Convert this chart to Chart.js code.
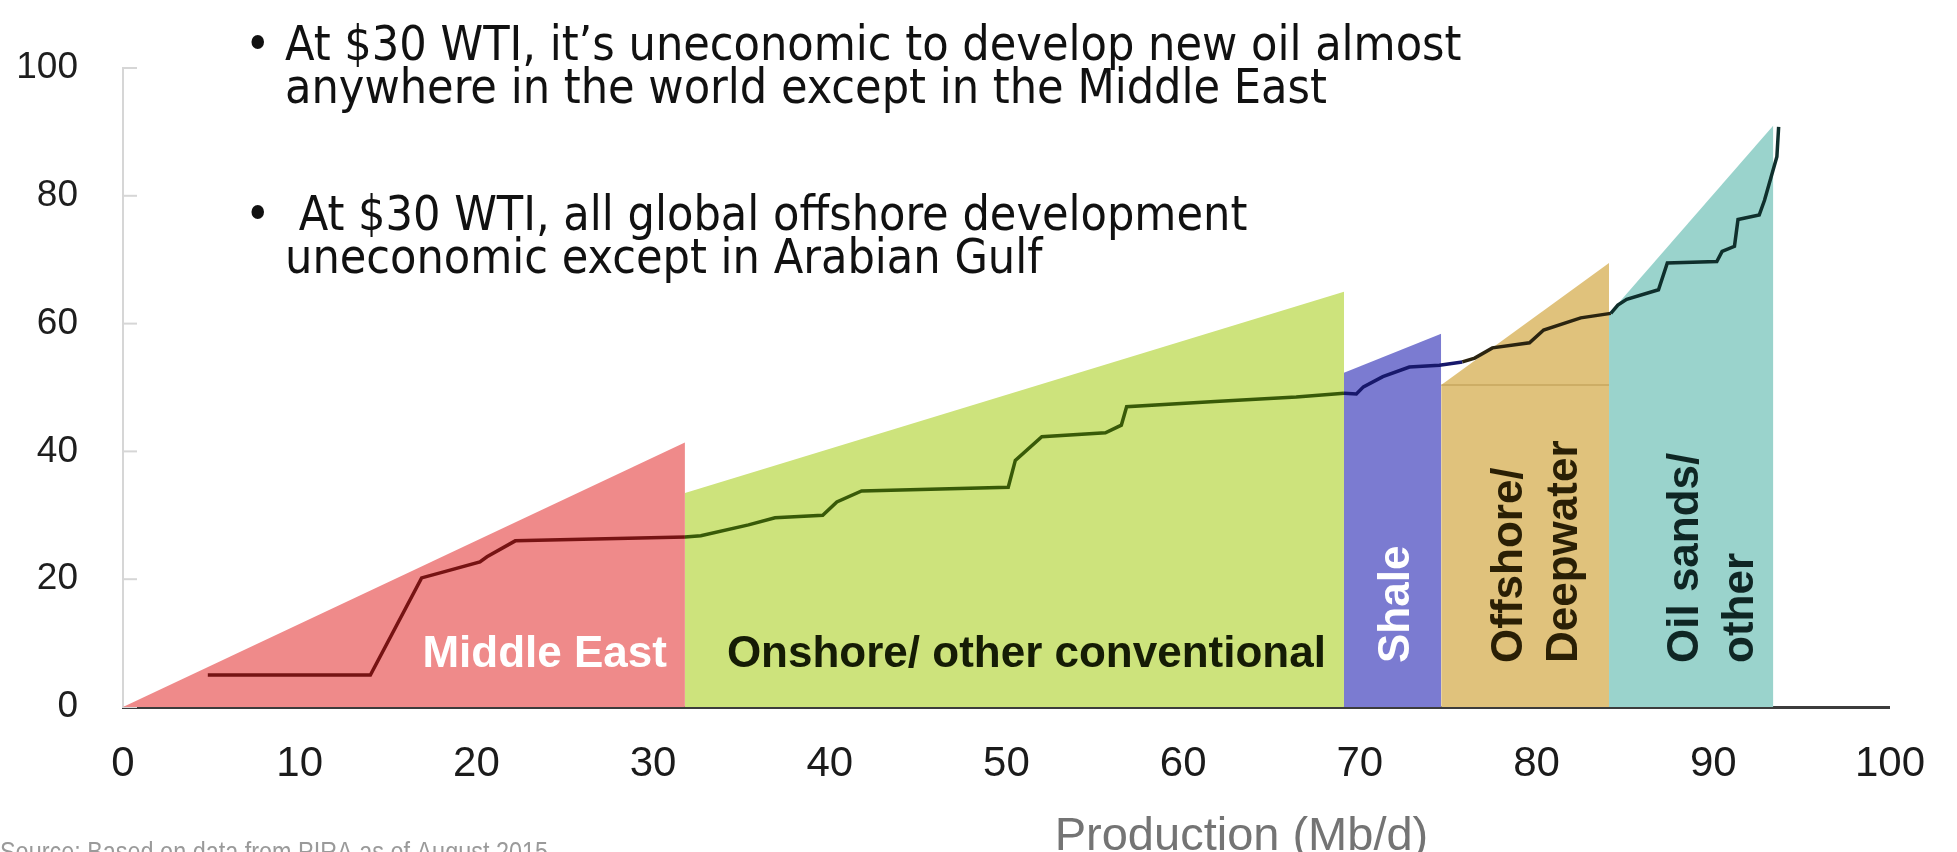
<!DOCTYPE html>
<html>
<head>
<meta charset="utf-8">
<title>Oil supply cost curve</title>
<script src="https://cdn.jsdelivr.net/npm/chart.js"></script>
<style>
  html, body { margin: 0; padding: 0; background: #ffffff; }
  canvas { display: block; }
</style>
</head>
<body>
<canvas id="chart" width="1957" height="852"></canvas>
<script>
// Supply segments (x in Mb/d, top of each band in $/bbl)
const regionNames = ["Middle East", "Onshore/ other conventional", "Shale", "Offshore/ Deepwater", "Oil sands/ other"];
const regionStart = [0, 31.8, 69.1, 74.6, 84.1];
const regionEnd = [31.8, 69.1, 74.6, 84.1, 93.4];
const regionTopStart = [0, 33.5, 52.3, 50.4, 61.5];
const regionTopEnd = [41.4, 65.0, 58.4, 69.5, 91.0];

// Breakeven cost curve
const costX = [4.8, 14.0, 16.9, 18.1, 20.2, 20.6, 22.2, 31.8,
  32.7, 35.4, 36.9, 39.6, 40.4, 41.8, 50.1, 50.5, 52.0, 55.6, 56.5, 56.8, 61.8, 66.4, 69.1,
  69.8, 70.2, 71.3, 72.8, 74.5,
  75.8, 76.5, 77.5, 79.6, 80.4, 82.5, 84.2,
  84.6, 85.1, 86.9, 87.4, 90.2, 90.5, 91.2, 91.4, 92.6, 92.9, 93.6, 93.7];
const costY = [5.0, 5.0, 20.2, 21.1, 22.7, 23.5, 26.0, 26.6,
  26.8, 28.5, 29.6, 30.0, 32.1, 33.8, 34.4, 38.6, 42.3, 42.9, 44.1, 47.0, 47.8, 48.5, 49.1,
  49.0, 50.1, 51.7, 53.2, 53.5,
  54.0, 54.6, 56.2, 57.0, 59.0, 60.9, 61.6,
  62.9, 63.8, 65.3, 69.5, 69.7, 71.3, 72.1, 76.3, 77.0, 79.3, 86.1, 90.8];

const xTickStep = 10;
const yTickStep = 20;

const notes = [
  ["At $30 WTI, it\u2019s uneconomic to develop new oil almost", "anywhere in the world except in the Middle East"],
  [" At $30 WTI, all global offshore development", "uneconomic except in Arabian Gulf"]
];
const xTitle = "Production (Mb/d)";
const sourceNote = "Source: Based on data from PIRA as of August 2015";

// styling
const fillColors = ["#ef8a8a", "#cde37c", "#7b7bd1", "#e0c27c", "#9ad3cc"];
const lineColors = ["#761313", "#385a08", "#17186b", "#2b2410", "#0f2f2c"];
const labelColors = ["#ffffff", "#151c05", "#ffffff", "#2a1f05", "#0f2624"];
const SANS = "'Liberation Sans', Arial, Helvetica, sans-serif";
const NOTE_FONT = "'DejaVu Sans Condensed', 'DejaVu Sans', sans-serif";

function regionOf(x) {
  for (let i = 0; i < regionEnd.length; i++) {
    if (x < regionEnd[i]) return i;
  }
  return regionEnd.length - 1;
}

const datasets = [];

datasets.push({
  label: "Cost curve",
  data: costX.map((x, i) => ({ x: x, y: costY[i] })),
  borderWidth: 3.5,
  borderColor: "#222",
  segment: {
    borderColor: (ctx) => lineColors[regionOf(ctx.p0.parsed.x + 0.01)]
  },
  pointRadius: 0,
  tension: 0,
  fill: false,
  order: 0
});

regionNames.forEach((name, i) => {
  datasets.push({
    label: name,
    data: [
      { x: regionStart[i], y: regionTopStart[i] },
      { x: regionEnd[i], y: regionTopEnd[i] }
    ],
    backgroundColor: fillColors[i],
    borderWidth: 0,
    borderColor: "rgba(0,0,0,0)",
    pointRadius: 0,
    tension: 0,
    fill: "origin",
    order: 2
  });
});

// faint seam inside the offshore band
datasets.push({
  label: "seam",
  data: [
    { x: regionStart[3], y: regionTopStart[3] },
    { x: regionEnd[3], y: regionTopStart[3] }
  ],
  borderColor: "rgba(170,135,60,0.35)",
  borderWidth: 2,
  pointRadius: 0,
  fill: false,
  order: 1
});

const decorations = {
  id: "decorations",
  beforeDatasetsDraw(chart) {
    const { ctx, scales: { x, y } } = chart;
    // short inward ticks on the y axis
    ctx.save();
    ctx.strokeStyle = "#d6d6d6";
    ctx.lineWidth = 2;
    for (let v = 0; v <= 100; v += yTickStep) {
      const py = y.getPixelForValue(v);
      ctx.beginPath();
      ctx.moveTo(x.left, py);
      ctx.lineTo(x.left + 14, py);
      ctx.stroke();
    }
    ctx.restore();
  },
  afterDatasetsDraw(chart) {
    const { ctx, scales: { x, y } } = chart;
    const base = y.getPixelForValue(0);
    ctx.save();
    ctx.font = "bold 44px " + SANS;
    ctx.textBaseline = "alphabetic";

    // horizontal band labels
    ctx.fillStyle = labelColors[0];
    ctx.textAlign = "right";
    ctx.fillText(regionNames[0], x.getPixelForValue(regionEnd[0]) - 18, base - 40);

    ctx.fillStyle = labelColors[1];
    ctx.textAlign = "left";
    ctx.fillText(regionNames[1], x.getPixelForValue(regionStart[1]) + 42, base - 40);

    // vertical band labels
    const vertical = [
      { i: 2, cx: 72.1, lines: ["Shale"] },
      { i: 3, cx: 80.05, lines: ["Offshore/", "Deepwater"] },
      { i: 4, cx: 90.0, lines: ["Oil sands/", "other"] }
    ];
    vertical.forEach((v) => {
      ctx.save();
      ctx.translate(x.getPixelForValue(v.cx), base - 44);
      ctx.rotate(-Math.PI / 2);
      ctx.fillStyle = labelColors[v.i];
      ctx.textAlign = "left";
      ctx.textBaseline = "middle";
      const gap = 55;
      const off = -(v.lines.length - 1) * gap / 2;
      v.lines.forEach((t, k) => ctx.fillText(t, 0, off + k * gap));
      ctx.restore();
    });
    ctx.restore();
  },
  afterDraw(chart) {
    const { ctx, scales: { x } } = chart;
    ctx.save();

    // bullet notes
    ctx.fillStyle = "#111111";
    ctx.font = "48px " + NOTE_FONT;
    ctx.textAlign = "left";
    ctx.textBaseline = "alphabetic";
    const baselines = [[60, 103], [230, 273]];
    notes.forEach((block, b) => {
      ctx.fillText("\u2022", 245, baselines[b][0]);
      block.forEach((line, k) => ctx.fillText(line, 285, baselines[b][k]));
    });

    // axis title
    ctx.fillStyle = "#747474";
    ctx.font = "47px " + SANS;
    ctx.textAlign = "center";
    ctx.fillText(xTitle, x.getPixelForValue(63.3), 850);

    // source, set narrow to fit its line
    ctx.fillStyle = "#9a9a9a";
    ctx.font = "28px " + SANS;
    ctx.textAlign = "left";
    const squeeze = 548 / ctx.measureText(sourceNote).width;
    ctx.translate(0, 861);
    ctx.scale(squeeze, 1);
    ctx.fillText(sourceNote, 0, 0);
    ctx.restore();
  }
};

new Chart(document.getElementById("chart"), {
  type: "line",
  data: { datasets: datasets },
  options: {
    responsive: false,
    animation: false,
    events: [],
    layout: { padding: { top: 68, right: 44, left: 0, bottom: 0 } },
    plugins: {
      legend: { display: false },
      tooltip: { enabled: false },
      title: { display: false }
    },
    scales: {
      x: {
        type: "linear",
        min: 0,
        max: 100,
        z: 1,
        ticks: {
          stepSize: xTickStep,
          padding: 32,
          color: "#1b1b1b",
          font: { family: SANS, size: 42 },
          maxRotation: 0,
          autoSkip: false
        },
        grid: { display: false, drawTicks: false },
        border: { display: true, color: "#3c3c3c", width: 3 },
        afterFit(scale) {
          scale.height = 145;
        }
      },
      y: {
        type: "linear",
        min: 0,
        max: 100,
        ticks: {
          stepSize: yTickStep,
          padding: 45,
          color: "#1e1e1e",
          font: { family: SANS, size: 37 }
        },
        grid: { display: false, drawTicks: false },
        border: { display: true, color: "#d6d6d6", width: 2 },
        afterFit(scale) {
          scale.width = 123;
        }
      }
    }
  },
  plugins: [decorations]
});
</script>
</body>
</html>
